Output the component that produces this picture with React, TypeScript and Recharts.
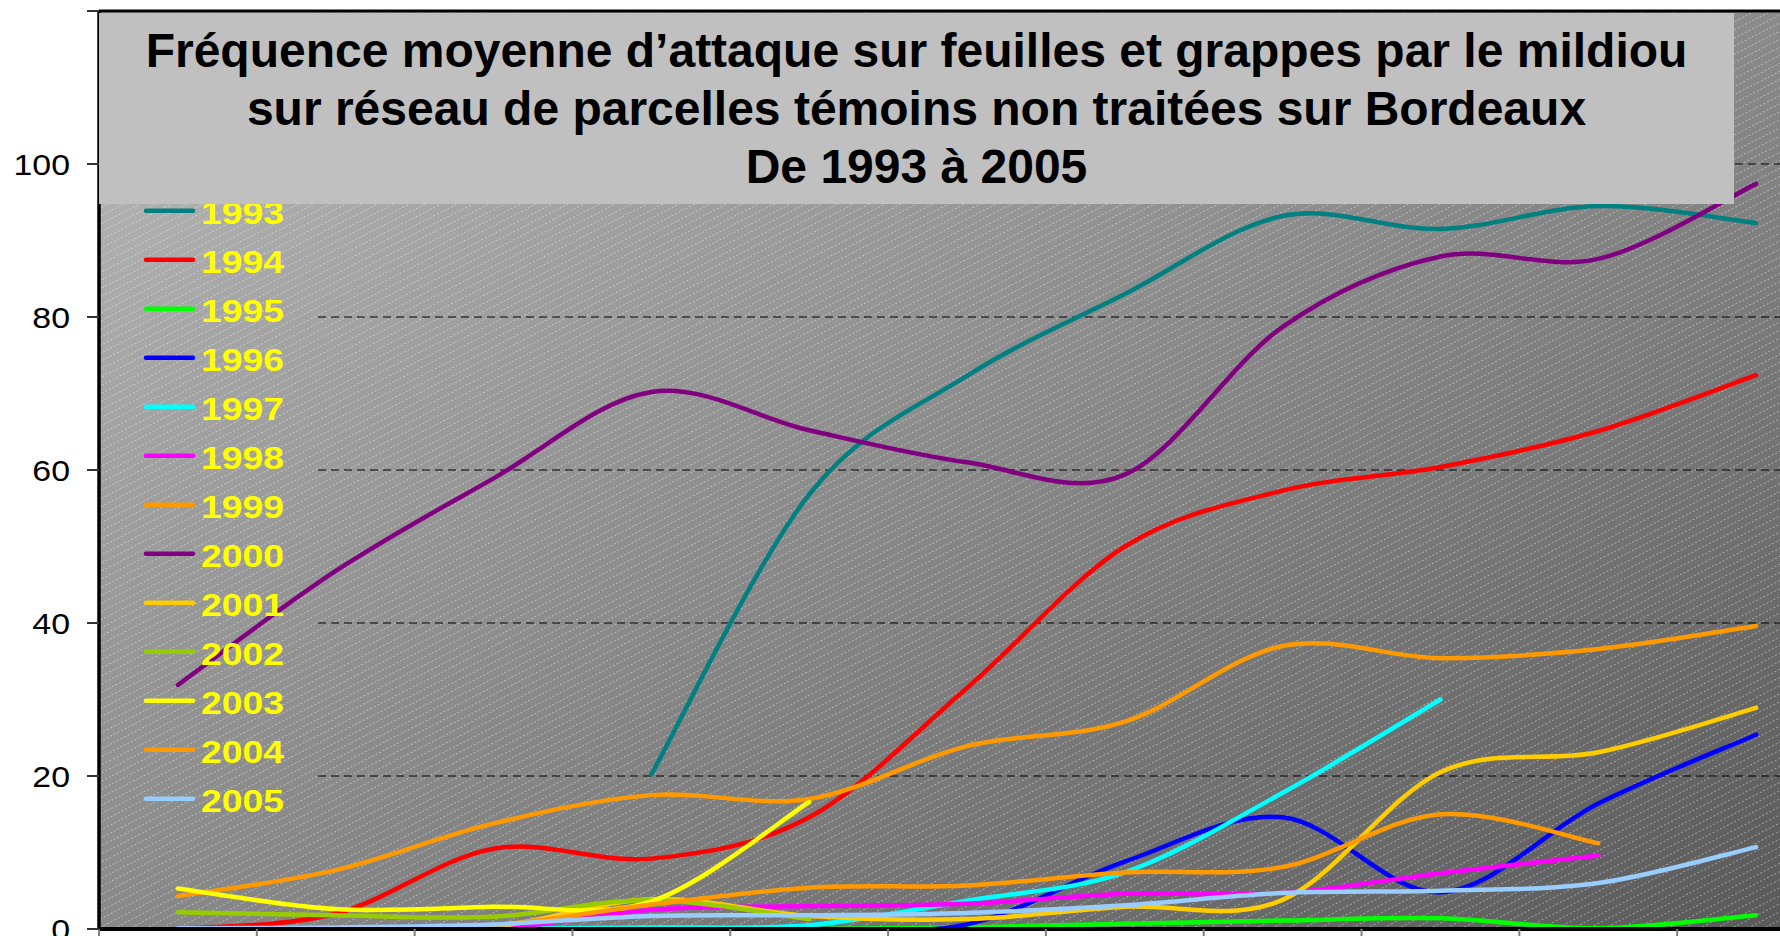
import React from 'react';
import { LineChart, Line, XAxis, YAxis, CartesianGrid, Legend, ReferenceLine } from 'recharts';

// Relevés successifs (axe des x, libellés hors cadre)
const releves = ['1', '2', '3', '4', '5', '6', '7', '8', '9', '10', '11'];

// Fréquence d'attaque (%) par année
const f1993 = [null, null, null, 20.2, 56.8, 72.3, 83, 93.2, 91.5, 94.5, 92.3];
const f1994 = [0, 2, 10.5, 9.2, 14.6, 31.5, 50, 57.3, 60.4, 65.1, 72.4];
const f1995 = [0, 0, 0, 0, 0, 0.2, 0.7, 1.1, 1.4, 0.1, 1.8];
const f1996 = [0, 0, 0, 0, 0, 0.6, 8.8, 14.6, 4.8, 16.4, 25.4];
const f1997 = [0, 0, 0, 0.2, 0.5, 3.7, 7.4, 17.8, 30, null, null];
const f1998 = [0, 0, 0, 2.5, 3.0, 3.3, 4.6, 4.7, 7.3, 9.6, null];
const f1999 = [4.3, 7.7, 13.8, 17.5, 17.0, 23.9, 27.1, 37, 35.4, 36.6, 39.6];
const f2000 = [31.9, 46.8, 58.9, 70.2, 65.2, 61, 59.4, 78.7, 87.9, 87.6, 97.4];
const f2001 = [0, 0, 0.3, 3.9, 1.7, 1.3, 2.9, 3.8, 20.5, 23.1, 28.9];
const f2002 = [2.2, 1.8, 1.6, 3.8, 1.3, null, null, null, null, null, null];
const f2003 = [5.3, 2.6, 2.9, 3.6, 16.6, null, null, null, null, null, null];
const f2004 = [0, 0, 0.5, 3.2, 5.4, 5.7, 7.4, 8.1, 15, 11.2, null];
const f2005 = [0.1, 0.2, 0.6, 1.7, 1.8, 2.1, 3.1, 4.7, 5.0, 6.0, 10.7];

const annees = ['1993', '1994', '1995', '1996', '1997', '1998', '1999', '2000', '2001', '2002', '2003', '2004', '2005'];
const valeurs = [f1993, f1994, f1995, f1996, f1997, f1998, f1999, f2000, f2001, f2002, f2003, f2004, f2005];
const couleurs = ['#008080', '#ff0000', '#00ff00', '#0000ff', '#00ffff', '#ff00ff', '#ff9900', '#800080', '#ffcc00', '#99cc00', '#ffff00', '#ff9900', '#99ccff'];

const graduationsY = [0, 20, 40, 60, 80, 100, 120];

const donnees = releves.map((r, i) => {
  const ligne: Record<string, number | string | null> = { releve: r, pos: i + 0.5 };
  annees.forEach((a, k) => {
    ligne['a' + a] = valeurs[k][i];
  });
  return ligne;
});

const bornesX = [...releves.map((_, i) => i), releves.length];

// lissage façon tableur (Catmull-Rom)
const courbeLissee = (context: any) => {
  let pts: number[][] = [];
  return {
    areaStart() {},
    areaEnd() {},
    lineStart() {
      pts = [];
    },
    lineEnd() {
      if (!pts.length) return;
      context.moveTo(pts[0][0], pts[0][1]);
      for (let i = 0; i < pts.length - 1; i++) {
        const p0 = pts[i - 1] || pts[i];
        const p1 = pts[i];
        const p2 = pts[i + 1];
        const p3 = pts[i + 2] || p2;
        context.bezierCurveTo(
          p1[0] + (p2[0] - p0[0]) / 6,
          p1[1] + (p2[1] - p0[1]) / 6,
          p2[0] - (p3[0] - p1[0]) / 6,
          p2[1] - (p3[1] - p1[1]) / 6,
          p2[0],
          p2[1]
        );
      }
    },
    point(x: number, y: number) {
      pts.push([+x, +y]);
    },
  };
};

const police = '"Liberation Sans", Arial, sans-serif';

const GraduationY = (props: any) => {
  const { x, y, payload } = props;
  if (payload.value > 100) return null;
  return (
    <text
      x={x}
      y={y}
      dy={11}
      textAnchor="end"
      fontSize={30}
      fontFamily={police}
      fill="#000"
      transform={`translate(${x} 0) scale(1.13 1) translate(${-x} 0)`}
    >
      {payload.value}
    </text>
  );
};

const LegendeAnnees = (props: any) => {
  const items = props.payload || [];
  return (
    <svg width={220} height={660} style={{ display: 'block', overflow: 'visible' }}>
      {items.map((e: any, i: number) => {
        const y = 30.7 + i * 49;
        return (
          <g key={e.value}>
            <line x1={6} x2={53} y1={y} y2={y} stroke={e.color} strokeWidth={4.5} strokeLinecap="round" />
            <text
              x={61}
              y={y + 13.6}
              fill="#ffff00"
              fontSize={32}
              fontWeight="bold"
              fontFamily={police}
              textLength={83}
              lengthAdjust="spacingAndGlyphs"
            >
              {e.value}
            </text>
          </g>
        );
      })}
    </svg>
  );
};

export default function App() {
  return (
    <div
      style={{
        position: 'fixed',
        left: 0,
        top: 0,
        width: 1780,
        height: 936,
        overflow: 'hidden',
        background: '#fff',
      }}
    >
      <LineChart width={1860} height={960} data={donnees} margin={{ top: 11, right: 25, bottom: 0, left: 0 }}>
        <defs>
          <linearGradient id="fondGris" x1="0" y1="0" x2="1" y2="1">
            <stop offset="0" stopColor="#bababa" />
            <stop offset="1" stopColor="#585858" />
          </linearGradient>
          <pattern id="hachures" width="16" height="7.2" patternUnits="userSpaceOnUse" patternTransform="rotate(-27)">
            <line x1="0" y1="0.5" x2="16" y2="0.5" stroke="rgba(255,255,255,0.42)" strokeWidth="1" strokeDasharray="2 2" />
          </pattern>
        </defs>
        <CartesianGrid horizontal={false} vertical={false} fill="url(#fondGris)" />
        <CartesianGrid horizontal={false} vertical={false} fill="url(#hachures)" />
        <CartesianGrid vertical={false} x={318} width={1835 - 318} stroke="#000" strokeDasharray="8 5" />
        <XAxis
          type="number"
          dataKey="pos"
          domain={[0, releves.length]}
          ticks={bornesX}
          interval={0}
          allowDataOverflow
          tick={<g />}
          height={31}
          axisLine={{ stroke: '#000', strokeWidth: 4 }}
          tickLine={{ stroke: '#808080', strokeWidth: 2 }}
          tickSize={10}
        />
        <YAxis
          domain={[0, 120]}
          ticks={graduationsY}
          interval={0}
          allowDataOverflow
          width={99}
          axisLine={{ stroke: '#000', strokeWidth: 3.5 }}
          tickLine={{ stroke: '#333', strokeWidth: 2 }}
          tickSize={12}
          tickMargin={17}
          tick={<GraduationY />}
        />
        <ReferenceLine y={120} stroke="#000" strokeWidth={3} />
        {annees.map((a, k) => (
          <Line
            key={a}
            dataKey={'a' + a}
            name={a}
            stroke={couleurs[k]}
            strokeWidth={4.5}
            strokeLinecap="round"
            strokeLinejoin="round"
            type={courbeLissee as any}
            dot={false}
            activeDot={false}
            isAnimationActive={false}
          />
        ))}
        <Legend
          layout="vertical"
          align="center"
          verticalAlign="middle"
          wrapperStyle={{ left: 140, top: 180, width: 220, height: 660 }}
          content={LegendeAnnees}
        />
      </LineChart>
      <div
        style={{
          position: 'absolute',
          left: 99,
          top: 13,
          width: 1635,
          height: 191,
          background: '#c0c0c0',
          zIndex: 5,
          boxSizing: 'border-box',
          paddingTop: 9,
          fontFamily: police,
          fontWeight: 'bold',
          fontSize: 48,
          lineHeight: '58px',
          textAlign: 'center',
          color: '#000',
        }}
      >
        <div>Fréquence moyenne d’attaque sur feuilles et grappes par le mildiou</div>
        <div>sur réseau de parcelles témoins non traitées sur Bordeaux</div>
        <div>De 1993 à 2005</div>
      </div>
    </div>
  );
}
